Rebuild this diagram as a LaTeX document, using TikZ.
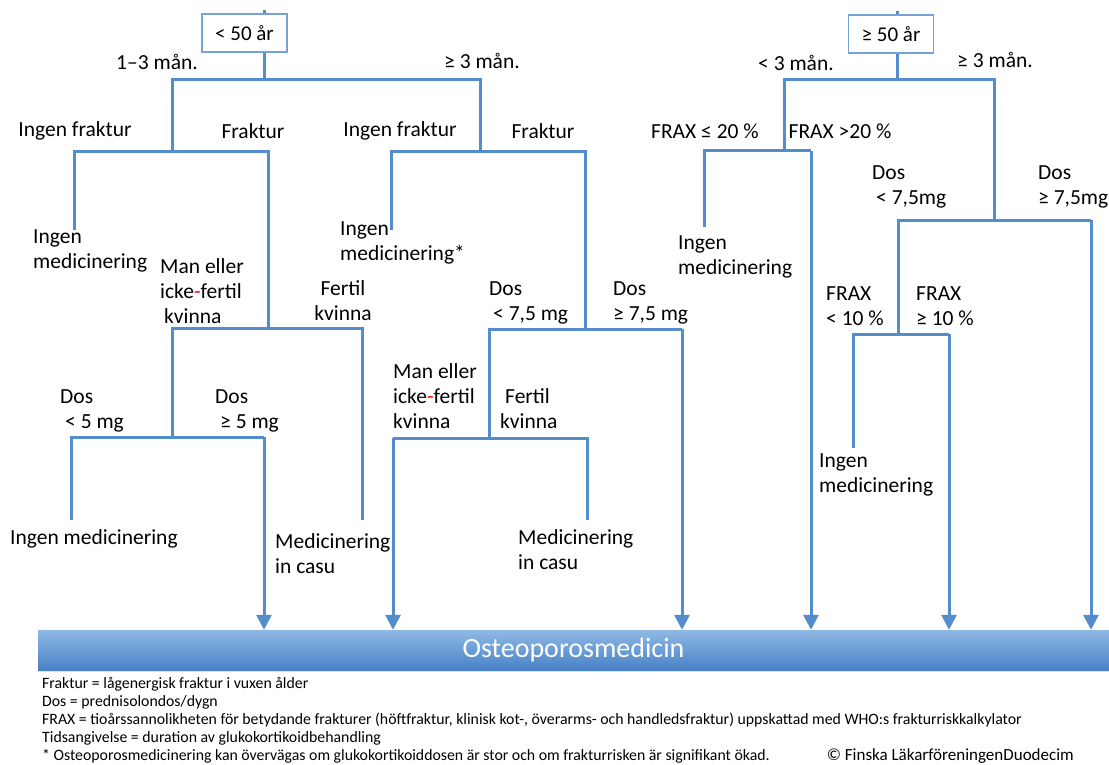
\documentclass[tikz,border=0pt]{standalone}
\usepackage{fontspec}
\setmainfont{Carlito}
\usetikzlibrary{arrows.meta,shadows}
\definecolor{treeblue}{RGB}{84,141,204}
\definecolor{boxblue}{RGB}{120,162,212}
\definecolor{bartop}{RGB}{143,184,229}
\definecolor{barbot}{RGB}{72,130,198}
\tikzset{
  branch/.style={treeblue, line width=3pt},
  tobar/.style={branch, -{Triangle[width=15pt,length=15pt]}},
  agebox/.style={draw=boxblue, line width=1.2pt, fill=white, minimum width=85pt, minimum height=38pt, inner sep=0pt, font=\fontsize{21}{25}\selectfont},
  lbl/.style={inner sep=0pt, align=left, font=\fontsize{21.5}{25}\selectfont},
  note/.style={inner sep=0pt, font=\fontsize{15.8}{18}\selectfont},
  bar/.style={minimum width=1071pt, minimum height=40pt, inner sep=0pt, top color=bartop, bottom color=barbot, text=white, font=\fontsize{28}{32}\selectfont, drop shadow={opacity=0.25, shadow xshift=0pt, shadow yshift=-2pt}}
}
\begin{document}
\begin{tikzpicture}[x=1pt,y=-1pt]
\useasboundingbox (0,0) rectangle (1109,765);
%\draw[step=50,gray,very thin] (0,0) grid (1109,765);

% banner
\node[bar] (bar) at (573.5,650) {Osteoporosmedicin};

% < 50 år
\node[agebox] (young) at (244.5,33) {< 50 år};
\coordinate (y0) at (264,80);
\coordinate (yL) at (172,80);
\coordinate (yR) at (480,80);
\coordinate (a0) at (172,152);
\coordinate (aL) at (74,152);
\coordinate (aR) at (268,152);
\coordinate (aLend) at (74,230);
\coordinate (b0) at (268,328);
\coordinate (bL) at (172,328);
\coordinate (bR) at (362,328);
\coordinate (bRend) at (362,520);
\coordinate (c0) at (172,437);
\coordinate (cL) at (71,437);
\coordinate (cR) at (264,437);
\coordinate (cLend) at (71,520);
\coordinate (d0) at (480,152);
\coordinate (dL) at (391,152);
\coordinate (dR) at (585,152);
\coordinate (dLend) at (391,230);
\coordinate (e0) at (585,329);
\coordinate (eL) at (489,329);
\coordinate (eR) at (682,329);
\coordinate (f0) at (489,438);
\coordinate (fL) at (393,438);
\coordinate (fR) at (587,438);
\coordinate (fRend) at (587,520);

\draw[branch] (young.north -| y0) -- ++(0,-3);
\draw[branch] (young.south -| y0) -- (y0);
\draw[branch] (a0) -- (yL) -- (yR) -- (d0);
\draw[branch] (aLend) -- (aL) -- (aR) -- (b0);
\draw[branch] (c0) -- (bL) -- (bR) -- (bRend);
\draw[branch] (cLend) -- (cL) -- (cR);
\draw[tobar] (cR) -- (cR |- bar.north);
\draw[branch] (dLend) -- (dL) -- (dR) -- (e0);
\draw[branch] (f0) -- (eL) -- (eR);
\draw[tobar] (eR) -- (eR |- bar.north);
\draw[branch] (fRend) -- (fR) -- (fL);
\draw[tobar] (fL) -- (fL |- bar.north);

\node[lbl] (y13) at (157,62) {1–3 mån.};
\node[lbl] (yge3) at (482,61) {≥ 3 mån.};
\node[lbl] (anofr) at (75,131) {Ingen fraktur};
\node[lbl] (afr) at (253,131) {Fraktur};
\node[lbl, anchor=west] (amed) at (33,251) {Ingen\\medicinering};
\node[lbl, anchor=west] (bman) at (160,291) {Man eller\\icke{\color{red}-}fertil\\\hspace{4pt}kvinna};
\node[lbl, align=center] (bfert) at (343,301) {Fertil\\kvinna};
\node[lbl, anchor=west] (clt5) at (60,411) {Dos\\\hspace{5pt}< 5 mg};
\node[lbl, anchor=west] (cge5) at (215,411) {Dos\\\hspace{5pt}≥ 5 mg};
\node[lbl, anchor=west] (cmed) at (10,539) {Ingen medicinering};
\node[lbl, anchor=west] (bcasu) at (275,554) {Medicinering\\in casu};
\node[lbl] (dnofr) at (400,131) {Ingen fraktur};
\node[lbl] (dfr) at (543,131) {Fraktur};
\node[lbl, anchor=west] (dmed) at (340,243) {Ingen\\medicinering*};
\node[lbl, anchor=west] (elt) at (489,303) {Dos\\\hspace{4pt}< 7,5 mg};
\node[lbl, anchor=west] (ege) at (613,303) {Dos\\≥ 7,5 mg};
\node[lbl, anchor=west] (fman) at (393,396) {Man eller\\icke{\color{red}-}fertil\\kvinna};
\node[lbl, anchor=west] (ffert) at (500,409) {\hspace{5pt}Fertil\\kvinna};
\node[lbl, anchor=west] (fcasu) at (518,550) {Medicinering\\in casu};

% >= 50 år
\node[agebox] (old) at (891,34) {≥ 50 år};
\coordinate (o0) at (897,80);
\coordinate (oL) at (784,80);
\coordinate (oR) at (994,80);
\coordinate (g0) at (784,151);
\coordinate (gL) at (704,151);
\coordinate (gR) at (811,151);
\coordinate (gLend) at (704,227);
\coordinate (h0) at (994,220);
\coordinate (hL) at (898,220);
\coordinate (hR) at (1091,220);
\coordinate (k0) at (898,334);
\coordinate (kL) at (853,334);
\coordinate (kR) at (949,334);
\coordinate (kLend) at (853,448);

\draw[branch] (old.north -| o0) -- ++(0,-3);
\draw[branch] (old.south -| o0) -- (o0);
\draw[branch] (g0) -- (oL) -- (oR) -- (h0);
\draw[branch] (gLend) -- (gL) -- (gR);
\draw[tobar] (gR) -- (gR |- bar.north);
\draw[branch] (k0) -- (hL) -- (hR);
\draw[tobar] (hR) -- (hR |- bar.north);
\draw[branch] (kLend) -- (kL) -- (kR);
\draw[tobar] (kR) -- (kR |- bar.north);

\node[lbl] (olt3) at (796,63) {< 3 mån.};
\node[lbl] (oge3) at (995,60) {≥ 3 mån.};
\node[lbl] (gle20) at (705,131) {FRAX ≤ 20 \%};
\node[lbl] (ggt20) at (840,131) {FRAX >20 \%};
\node[lbl, anchor=west] (gmed) at (678,257) {Ingen\\medicinering};
\node[lbl, anchor=west] (hlt) at (872,187) {Dos\\\hspace{4pt}< 7,5mg};
\node[lbl, anchor=west] (hge) at (1038,187) {Dos\\≥ 7,5mg};
\node[lbl, anchor=west] (klt) at (826,306) {FRAX\\< 10 \%};
\node[lbl, anchor=west] (kge) at (916,306) {FRAX\\≥ 10 \%};
\node[lbl, anchor=west] (kmed) at (819,475) {Ingen\\medicinering};

% notes
\node[note, anchor=west, align=left] (notes) at (42,720) {Fraktur = lågenergisk fraktur i vuxen ålder\\
Dos = prednisolondos/dygn\\
FRAX = tioårssannolikheten för betydande frakturer (höftfraktur, klinisk kot-, överarms- och handledsfraktur) uppskattad med WHO:s frakturriskkalkylator\\
Tidsangivelse = duration av glukokortikoidbehandling\\
* Osteoporosmedicinering kan övervägas om glukokortikoiddosen är stor och om frakturrisken är signifikant ökad.};
\node[note, anchor=east, font=\fontsize{17}{18}\selectfont] (copy) at (1074,756) {© Finska LäkarföreningenDuodecim};
\end{tikzpicture}
\end{document}
